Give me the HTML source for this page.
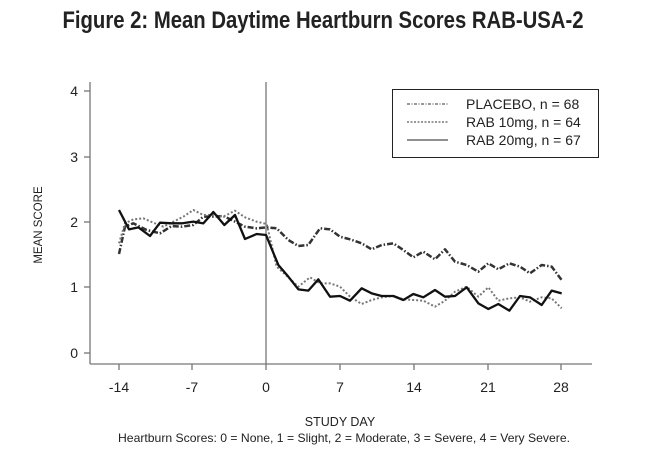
<!DOCTYPE html>
<html><head><meta charset="utf-8"><style>html,body{margin:0;padding:0;background:#fff}</style></head>
<body>
<svg width="646" height="465" xmlns="http://www.w3.org/2000/svg" font-family="Liberation Sans, Arial, sans-serif">
<rect width="646" height="465" fill="#fff"/>
<text x="323" y="28" text-anchor="middle" font-family="Liberation Sans Narrow, Liberation Sans, sans-serif" font-weight="bold" font-size="24" textLength="521" lengthAdjust="spacingAndGlyphs" fill="#222">Figure 2: Mean Daytime Heartburn Scores RAB-USA-2</text>
<g stroke="#777" stroke-width="1.3" fill="none">
<line x1="90" y1="82" x2="90" y2="364"/>
<line x1="90" y1="364" x2="592" y2="364"/>
<line x1="266" y1="82" x2="266" y2="364"/>
<line x1="84" y1="91" x2="90" y2="91"/><line x1="84" y1="157" x2="90" y2="157"/><line x1="84" y1="222" x2="90" y2="222"/><line x1="84" y1="287" x2="90" y2="287"/><line x1="84" y1="353" x2="90" y2="353"/>
<line x1="119" y1="364" x2="119" y2="370"/><line x1="192" y1="364" x2="192" y2="370"/><line x1="266" y1="364" x2="266" y2="370"/><line x1="340" y1="364" x2="340" y2="370"/><line x1="414" y1="364" x2="414" y2="370"/><line x1="488" y1="364" x2="488" y2="370"/><line x1="561" y1="364" x2="561" y2="370"/>
</g>
<g font-size="14" fill="#222" text-anchor="end">
<text x="78" y="96">4</text><text x="78" y="162">3</text><text x="78" y="227">2</text><text x="78" y="292">1</text><text x="78" y="358">0</text>
</g>
<g font-size="14" fill="#222" text-anchor="middle">
<text x="119" y="392">-14</text><text x="192" y="392">-7</text><text x="266" y="392">0</text><text x="340" y="392">7</text><text x="414" y="392">14</text><text x="488" y="392">21</text><text x="561" y="392">28</text>
</g>
<text transform="translate(42,225) rotate(-90)" text-anchor="middle" font-size="11.5" fill="#222">MEAN SCORE</text>
<text x="340" y="426" text-anchor="middle" font-size="12.5" fill="#222">STUDY DAY</text>
<text x="344" y="442" text-anchor="middle" font-size="12" textLength="452" lengthAdjust="spacingAndGlyphs" fill="#222">Heartburn Scores: 0 = None, 1 = Slight, 2 = Moderate, 3 = Severe, 4 = Very Severe.</text>
<g transform="translate(80,190) scale(0.33333)" fill="none" stroke-linejoin="round">
<polyline vector-effect="non-scaling-stroke" stroke="#333" stroke-width="2.5" stroke-dasharray="6,2,1.5,2" points="117,192 135,110 160,100 200,120 240,130 275,108 305,110 340,105 370,80 400,80 430,78 465,95 495,110 530,115 560,112 590,115 625,150 655,168 685,165 720,115 750,118 780,140 810,148 845,160 875,178 905,165 940,160 970,180 1000,202 1030,185 1065,208 1095,178 1125,215 1160,225 1195,245 1225,220 1255,238 1288,220 1320,230 1350,250 1385,225 1415,230 1445,270"/>
<polyline vector-effect="non-scaling-stroke" stroke="#777" stroke-width="2" stroke-dasharray="2,2" points="117,160 135,100 160,88 190,85 220,98 250,110 280,95 310,80 340,60 370,75 400,75 430,80 465,62 495,82 530,95 560,102 590,230 625,262 655,290 690,262 720,280 750,280 780,290 810,320 845,342 875,330 905,322 940,318 970,328 1000,330 1030,332 1065,350 1095,332 1125,305 1160,290 1195,320 1225,292 1255,332 1288,325 1320,322 1350,335 1385,322 1415,325 1445,355"/>
<polyline vector-effect="non-scaling-stroke" stroke="#111" stroke-width="2.3" points="117,60 147,118 175,112 210,138 240,98 275,100 305,100 340,95 370,100 400,66 433,105 465,75 495,147 530,132 558,135 595,225 625,260 655,298 685,302 715,268 750,320 780,318 810,332 845,295 875,310 905,318 940,318 970,330 1000,312 1030,322 1065,300 1095,320 1125,318 1160,292 1195,340 1225,357 1255,342 1288,362 1320,318 1350,322 1385,345 1415,302 1445,310"/>
</g>
<rect x="392.5" y="89.5" width="206" height="68" fill="#fff" stroke="#222" stroke-width="1"/>
<line x1="407" y1="104" x2="448" y2="104" stroke="#333" stroke-width="1" stroke-dasharray="3,1.5,1,1.5"/>
<line x1="407" y1="122" x2="448" y2="122" stroke="#333" stroke-width="1" stroke-dasharray="2,1.5"/>
<line x1="407" y1="140" x2="448" y2="140" stroke="#222" stroke-width="1"/>
<g font-size="14" fill="#222">
<text x="466" y="109">PLACEBO, n = 68</text>
<text x="466" y="127">RAB 10mg, n = 64</text>
<text x="466" y="145">RAB 20mg, n = 67</text>
</g>
</svg>
</body></html>
